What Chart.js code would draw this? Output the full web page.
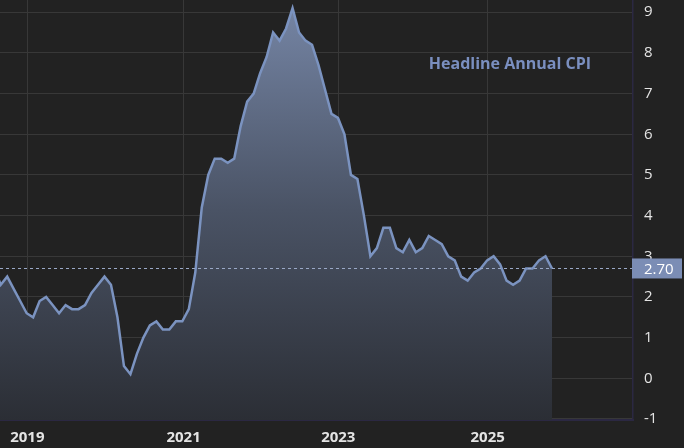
<!DOCTYPE html>
<html>
<head>
<meta charset="utf-8">
<script src="https://cdn.jsdelivr.net/npm/chart.js@4.4.1/dist/chart.umd.min.js"></script>
<style>
  html, body { margin: 0; padding: 0; background: #222222; overflow: hidden; }
  #wrap { width: 684px; height: 448px; }
</style>
</head>
<body>
<div id="wrap"><canvas id="cpiChart" width="684" height="448"></canvas></div>
<script>
// Headline CPI, year over year %, monthly (Oct 2025 not published)
const months = [
  "2018-08", "2018-09", "2018-10", "2018-11", "2018-12",
  "2019-01", "2019-02", "2019-03", "2019-04", "2019-05", "2019-06", "2019-07", "2019-08", "2019-09", "2019-10", "2019-11", "2019-12",
  "2020-01", "2020-02", "2020-03", "2020-04", "2020-05", "2020-06", "2020-07", "2020-08", "2020-09", "2020-10", "2020-11", "2020-12",
  "2021-01", "2021-02", "2021-03", "2021-04", "2021-05", "2021-06", "2021-07", "2021-08", "2021-09", "2021-10", "2021-11", "2021-12",
  "2022-01", "2022-02", "2022-03", "2022-04", "2022-05", "2022-06", "2022-07", "2022-08", "2022-09", "2022-10", "2022-11", "2022-12",
  "2023-01", "2023-02", "2023-03", "2023-04", "2023-05", "2023-06", "2023-07", "2023-08", "2023-09", "2023-10", "2023-11", "2023-12",
  "2024-01", "2024-02", "2024-03", "2024-04", "2024-05", "2024-06", "2024-07", "2024-08", "2024-09", "2024-10", "2024-11", "2024-12",
  "2025-01", "2025-02", "2025-03", "2025-04", "2025-05", "2025-06", "2025-07", "2025-08", "2025-09", "2025-11"
];
const cpi = [
  2.7, 2.3, 2.5, 2.2, 1.9,
  1.6, 1.5, 1.9, 2.0, 1.8, 1.6, 1.8, 1.7, 1.7, 1.8, 2.1, 2.3,
  2.5, 2.3, 1.5, 0.3, 0.1, 0.6, 1.0, 1.3, 1.4, 1.2, 1.2, 1.4,
  1.4, 1.7, 2.6, 4.2, 5.0, 5.4, 5.4, 5.3, 5.4, 6.2, 6.8, 7.0,
  7.5, 7.9, 8.5, 8.3, 8.6, 9.1, 8.5, 8.3, 8.2, 7.7, 7.1, 6.5,
  6.4, 6.0, 5.0, 4.9, 4.0, 3.0, 3.2, 3.7, 3.7, 3.2, 3.1, 3.4,
  3.1, 3.2, 3.5, 3.4, 3.3, 3.0, 2.9, 2.5, 2.4, 2.6, 2.7, 2.9,
  3.0, 2.8, 2.4, 2.3, 2.4, 2.7, 2.7, 2.9, 3.0, 2.7
];
const yTicks = [-1, 0, 1, 2, 3, 4, 5, 6, 7, 8, 9];
const xTickYears = ["2019", "2021", "2023", "2025"];
const xTickIndex = [5.1, 29.2, 53.05, 76.08];
const seriesName = "Headline Annual CPI";

const lastValue = cpi[cpi.length - 1];

// dotted last-value line, value tag on the axis, and the series name
const overlayPlugin = {
  id: "overlay",
  afterDatasetsDraw(chart) {
    const { ctx, chartArea, scales } = chart;
    const y = Math.round(scales.y.getPixelForValue(lastValue)) + 0.5;
    ctx.save();
    ctx.strokeStyle = "#9aa8c6";
    ctx.lineWidth = 1;
    ctx.setLineDash([3, 3]);
    ctx.beginPath();
    ctx.moveTo(chartArea.left, y);
    ctx.lineTo(chartArea.right, y);
    ctx.stroke();
    ctx.restore();
  },
  afterDraw(chart) {
    const { ctx, chartArea, scales } = chart;
    const y = scales.y.getPixelForValue(lastValue);
    ctx.save();
    ctx.fillStyle = "#7b8db5";
    ctx.fillRect(chartArea.right - 1, y - 10, 50, 20);
    ctx.fillStyle = "#ffffff";
    ctx.font = "15px 'Open Sans'";
    ctx.textAlign = "left";
    ctx.textBaseline = "middle";
    ctx.fillText(lastValue.toFixed(2), chartArea.right + 11, y + 1);

    ctx.fillStyle = "#7a8fc0";
    ctx.font = "bold 16px 'Open Sans'";
    ctx.textAlign = "right";
    ctx.fillText(seriesName, chartArea.right - 42, 64);
    ctx.restore();
  }
};

const ctx = document.getElementById("cpiChart");
const cpiChart = new Chart(ctx, {
  type: "line",
  data: {
    datasets: [{
      label: seriesName,
      data: cpi.map((v, i) => ({ x: i, y: v })),
      borderColor: "#7b93c0",
      borderWidth: 2.5,
      pointRadius: 0,
      tension: 0,
      fill: "start",
      backgroundColor: (context) => {
        const { ctx, chartArea } = context.chart;
        if (!chartArea) return "rgba(100,115,145,0.6)";
        const g = ctx.createLinearGradient(0, chartArea.top, 0, chartArea.bottom);
        g.addColorStop(0, "rgb(118,134,166)");
        g.addColorStop(0.5, "rgb(74,83,101)");
        g.addColorStop(1, "rgb(43,46,53)");
        return g;
      }
    }]
  },
  options: {
    responsive: false,
    animation: false,
    layout: { padding: 0 },
    plugins: {
      legend: { display: false },
      tooltip: { enabled: false }
    },
    scales: {
      x: {
        type: "linear",
        min: 0.89,
        max: 98.49,
        afterBuildTicks: (s) => { s.ticks = xTickIndex.map(v => ({ value: v })); },
        afterFit: (s) => { s.height = 28; s.paddingLeft = 0; s.paddingRight = 0; },
        ticks: {
          color: "#e4e4e4",
          font: { family: "Open Sans", size: 15, weight: "bold" },
          padding: 9,
          maxRotation: 0,
          autoSkip: false,
          callback: (v, i) => xTickYears[i]
        },
        grid: { color: "#383838", drawTicks: false },
        border: { color: "#2b2842", width: 2 }
      },
      y: {
        position: "right",
        min: -1.025,
        max: 9.3,
        afterBuildTicks: (s) => { s.ticks = yTicks.map(v => ({ value: v })); },
        afterFit: (s) => { s.width = 51; s.paddingTop = 0; s.paddingBottom = 0; },
        ticks: {
          color: "#e4e4e4",
          font: { family: "Open Sans", size: 15 },
          padding: 11,
          callback: (v) => v
        },
        grid: { color: "#383838", drawTicks: false },
        border: { color: "#2b2842", width: 1.5 }
      }
    }
  },
  plugins: [overlayPlugin]
});
</script>
</body>
</html>
